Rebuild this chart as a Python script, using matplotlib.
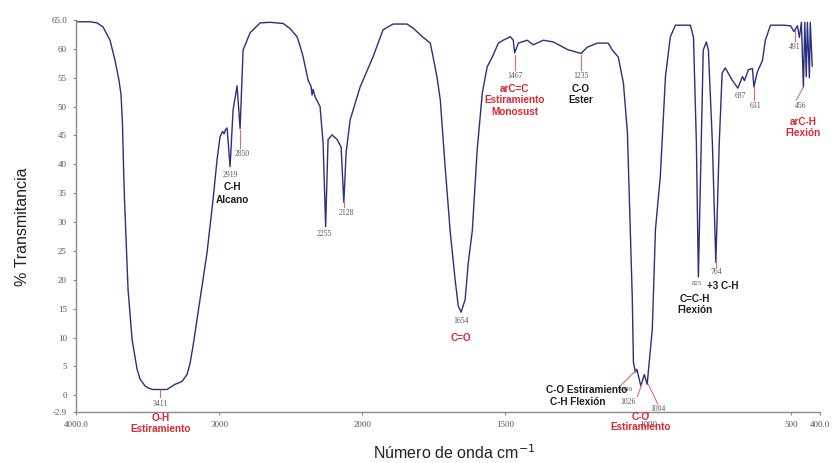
import numpy as np
import matplotlib
matplotlib.use("Agg")
import matplotlib.pyplot as plt

# spectrum (cm-1, %T)
wavenumber = [3999, 3902, 3853, 3811, 3762, 3727, 3699, 3685, 3675, 3668, 3661, 3650, 3636,
              3608, 3573, 3552, 3517, 3490, 3462, 3413, 3364, 3308, 3287, 3259, 3224, 3203,
              3182, 3133, 3084, 3042, 3014, 2993, 2975, 2965, 2955, 2944, 2923, 2902, 2874,
              2853, 2839, 2832, 2783, 2713, 2643, 2552, 2503, 2455, 2434, 2413, 2378, 2357,
              2350, 2343, 2329, 2294, 2273, 2255, 2238, 2210, 2175, 2147, 2128, 2112, 2084,
              2014, 1962, 1927, 1892, 1843, 1822, 1787, 1762, 1752, 1738, 1727, 1710, 1692,
              1675, 1664, 1654, 1640, 1629, 1615, 1598, 1580, 1563, 1545, 1524, 1507, 1482,
              1472, 1467, 1454, 1423, 1402, 1367, 1332, 1283, 1248, 1235, 1213, 1178, 1140,
              1126, 1105, 1087, 1073, 1063, 1056, 1052, 1045, 1040, 1026, 1014, 1004, 986,
              975, 958, 940, 923, 905, 853, 842, 832, 825, 815, 808, 797, 790, 776, 764,
              752, 742, 731, 707, 687, 671, 664, 650, 636, 631, 619, 601, 591, 573, 528,
              503, 491, 479, 472, 465, 458, 453, 448, 444, 437, 434, 427]
transmittance = [64.7, 64.7, 64.5, 63.8, 61.5, 58.0, 54.5, 52.0, 47.0, 40.0, 34.0, 27.0, 18.3,
                 9.7, 4.5, 2.8, 1.6, 1.2, 1.0, 1.0, 1.0, 1.9, 2.1, 2.4, 3.6, 5.5,
                 8.5, 16.6, 24.7, 33.9, 40.8, 44.8, 45.7, 45.3, 46.0, 46.3, 39.6, 49.4, 53.6,
                 46.2, 55.0, 59.8, 62.8, 64.5, 64.6, 64.4, 63.5, 62.1, 60.5, 58.7, 54.6, 53.5,
                 52.0, 53.0, 51.7, 50.0, 43.7, 29.2, 44.3, 45.1, 44.3, 43.0, 33.4, 42.0, 47.7,
                 53.4, 58.6, 63.3, 64.3, 64.3, 63.6, 62.0, 61.0, 58.6, 55.0, 51.2, 39.6, 28.2,
                 20.0, 15.4, 14.4, 16.6, 23.0, 28.5, 42.5, 52.4, 56.9, 58.6, 61.0, 61.5, 62.1,
                 61.5, 59.3, 61.0, 61.5, 60.7, 61.5, 61.2, 59.9, 59.4, 59.2, 60.3, 61.0, 61.0,
                 59.8, 58.6, 54.1, 45.5, 28.5, 17.0, 5.7, 4.0, 4.5, 1.6, 3.6, 1.9, 11.4,
                 28.7, 37.9, 55.2, 62.1, 64.1, 64.1, 62.0, 43.7, 20.5, 43.7, 59.8, 61.2, 59.8, 43.7, 23.0,
                 43.7, 55.8, 56.7, 54.6, 53.2, 55.2, 54.5, 56.4, 56.6, 53.4, 56.0, 58.0, 61.5, 64.1, 64.1,
                 64.0, 63.0, 64.0, 62.0, 64.6, 53.4, 64.6, 55.2, 64.6, 55.0, 64.6, 57.0]

x_ticks = [4000, 3000, 2000, 1500, 1000, 500, 400]
x_ticklabels = ["4000.0", "3000", "2000", "1500", "1000", "500", "400.0"]
y_ticks = [65, 60, 55, 50, 45, 40, 35, 30, 25, 20, 15, 10, 5, 0, -2.9]
y_ticklabels = ["65.0", "60", "55", "50", "45", "40", "35", "30", "25", "20", "15", "10", "5", "0", "-2.9"]

# peak numbers: (text, x, y) and the red pointer from the curve to the number
peak_text = ["3411", "2919", "2850", "2255", "2128", "1654", "1467", "1235", "825", "764",
             "687", "631", "491", "456", "1040", "1026", "1004"]
peak_pos = [(3411, -1.5), (2919, 38.2), (2839, 41.8), (2266, 28.0), (2112, 31.6), (1654, 12.8),
            (1467, 55.3), (1235, 55.3), (829, 19.4), (764, 21.3), (678, 51.9), (626, 50.1),
            (489, 60.3), (468, 50.1), (1080, 1.0), (1070, -1.2), (965, -2.4)]
pointers = [((3411, 1.0), (3411, -0.3)), ((2853, 46.0), (2853, 42.9)), ((2128, 33.4), (2128, 32.6)),
            ((1467, 59.0), (1467, 56.4)), ((1235, 59.0), (1235, 56.4)), ((764, 23.0), (764, 22.3)),
            ((629, 53.4), (629, 51.2)), ((489, 63.3), (489, 61.4)), ((458, 53.4), (482, 51.2)),
            ((1045, 4.2), (1098, 1.6)), ((1021, 2.1), (1038, -0.2)), ((1000, 1.9), (967, -1.5))]

# group labels: (text, x, y, colour, ha)
RED = "#e0262e"
DARK = "#1e1e1e"
groups = [("O-H", 3411, -3.9, RED, "center"), ("Estiramiento", 3411, -5.8, RED, "center"),
          ("C-H", 2905, 36.0, DARK, "center"), ("Alcano", 2905, 33.9, DARK, "center"),
          ("C=O", 1654, 10.0, RED, "center"),
          ("arC=C", 1467, 53.1, RED, "center"), ("Estiramiento", 1467, 51.2, RED, "center"),
          ("Monosust", 1467, 49.1, RED, "center"),
          ("C-O", 1235, 53.1, DARK, "center"), ("Ester", 1235, 51.2, DARK, "center"),
          ("+3 C-H", 741, 19.0, DARK, "center"),
          ("C=C-H", 836, 16.6, DARK, "center"), ("Flexión", 836, 14.7, DARK, "center"),
          ("arC-H", 458, 47.4, RED, "center"), ("Flexión", 458, 45.5, RED, "center"),
          ("C-O Estiramiento", 1072, 1.0, DARK, "right"), ("C-H Flexión", 1245, -1.2, DARK, "center"),
          ("C-O", 1028, -3.8, RED, "center"), ("Estiramiento", 1028, -5.5, RED, "center")]


def fwd(x):
    x = np.asarray(x, dtype=float)
    return np.where(x > 2000, 2000 + (x - 2000) / 2.0, x)


def inv(t):
    t = np.asarray(t, dtype=float)
    return np.where(t > 2000, 2000 + (t - 2000) * 2.0, t)


fig = plt.figure(figsize=(8.34, 4.63), dpi=100)
ax = fig.add_axes([0.0911, 0.1101, 0.8921, 0.8467])
ax.set_xscale("function", functions=(fwd, inv))

ax.plot(wavenumber, transmittance, color="#2c2e80", lw=1.0)
ax.set_xlim(4000, 400)
ax.set_ylim(-2.9, 65)

for s in ["top", "right"]:
    ax.spines[s].set_visible(False)
for s in ["left", "bottom"]:
    ax.spines[s].set_color("#8a8a8a")
    ax.spines[s].set_linewidth(1.0)

ax.set_xticks(x_ticks)
ax.set_xticklabels(x_ticklabels)
ax.set_yticks(y_ticks)
ax.set_yticklabels(y_ticklabels)
ax.xaxis.set_minor_locator(matplotlib.ticker.NullLocator())
ax.tick_params(axis="both", length=2.5, width=0.8, color="#8a8a8a", labelsize=6.5,
               labelcolor="#555555", pad=4)
for lab in ax.get_xticklabels() + ax.get_yticklabels():
    lab.set_family("Liberation Serif")

for (x0, y0), (x1, y1) in pointers:
    ax.plot([x0, x1], [y0, y1], color="#e86a6a", lw=0.8, clip_on=False)

for txt, (x, y) in zip(peak_text, peak_pos):
    fs = 5.5 if txt not in ("825", "1040") else 5
    ax.text(x, y, txt, fontsize=fs, family="Liberation Serif", color="#555555",
            ha="center", va="center", clip_on=False)

for txt, x, y, col, ha in groups:
    ax.text(x, y, txt, fontsize=7.2, family="Liberation Sans", fontweight="bold", color=col,
            ha=ha, va="center", clip_on=False)

fig.text(0.027, 0.51, "% Transmitancia", rotation=90, fontsize=11.5, family="Liberation Sans",
         color="#222222", ha="center", va="center")
fig.text(0.545, 0.022, "Número de onda cm$^{-1}$", fontsize=11.5, family="Liberation Sans",
         color="#222222", ha="center", va="center")

fig.savefig("out.png", dpi=100)
